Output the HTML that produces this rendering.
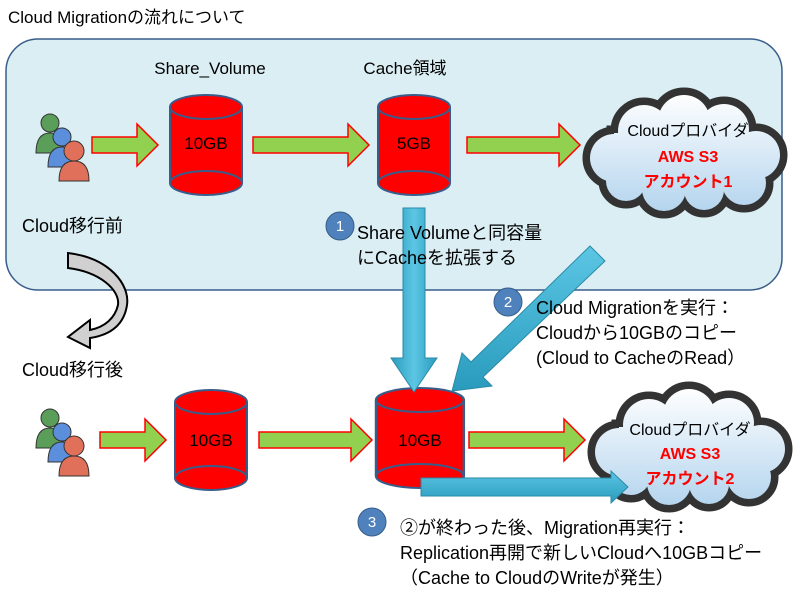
<!DOCTYPE html>
<html><head><meta charset="utf-8"><style>
body{margin:0;background:#fff}
svg text{font-family:"Liberation Sans","Noto Sans CJK JP",sans-serif}
</style></head><body>
<svg width="800" height="591" xmlns="http://www.w3.org/2000/svg">
<defs>
<linearGradient id="cl" gradientUnits="userSpaceOnUse" x1="0" y1="0" x2="0" y2="120"><stop offset="0" stop-color="#ffffff"/><stop offset="1" stop-color="#b3d4ee"/></linearGradient>
<linearGradient id="bv" x1="0" y1="0" x2="1" y2="0"><stop offset="0" stop-color="#2a9bbd"/><stop offset="0.5" stop-color="#5cc6e4"/><stop offset="1" stop-color="#2a9bbd"/></linearGradient>
<linearGradient id="bh" x1="0" y1="0" x2="0" y2="1"><stop offset="0" stop-color="#5cc6e4"/><stop offset="1" stop-color="#2a9bbd"/></linearGradient>
<g id="cyl">
<path d="M0,12 L0,88 A36,12 0 0 0 72,88 L72,12" fill="#f00" stroke="#385d8a" stroke-width="2"/>
<path d="M0,88 A36,12 0 0 1 72,88" fill="none" stroke="#385d8a" stroke-width="2"/>
<ellipse cx="36" cy="12" rx="36" ry="12" fill="#f00" stroke="#385d8a" stroke-width="2"/>
</g>
<g id="cloudS">
<circle cx="30" cy="65" r="24"/><circle cx="60" cy="38" r="26"/><circle cx="100" cy="28" r="26"/><circle cx="140" cy="36" r="25"/><circle cx="172" cy="62" r="24"/><circle cx="160" cy="90" r="22"/><circle cx="120" cy="97" r="20"/><circle cx="80" cy="96" r="22"/><circle cx="42" cy="88" r="20"/><rect x="30" y="40" width="140" height="55"/>
</g>
<g id="cloud">
<use href="#cloudS" fill="#333" stroke="#333" stroke-width="15"/>
<use href="#cloudS" fill="url(#cl)"/>
</g>
<g id="people">
<circle cx="18" cy="10" r="9" fill="#5a9e5a" stroke="#333"/><path d="M4,40 Q4,20 18,20 Q32,20 32,40 Z" fill="#5a9e5a" stroke="#333"/>
<circle cx="30" cy="24" r="9" fill="#5b8fdc" stroke="#333"/><path d="M16,54 Q16,34 30,34 Q44,34 44,54 Z" fill="#5b8fdc" stroke="#333"/>
<circle cx="42" cy="38" r="10" fill="#e0705a" stroke="#333"/><path d="M27,68 Q27,48 42,48 Q57,48 57,68 Z" fill="#e0705a" stroke="#333"/>
</g>
</defs>
<text x="8" y="23" font-size="17" fill="#000">Cloud Migrationの流れについて</text>
<rect x="6" y="39" width="776" height="251" rx="32" fill="#daeef3" stroke="#385d8a" stroke-width="1.5"/>
<text x="210" y="74" font-size="17" text-anchor="middle">Share_Volume</text>
<text x="405" y="74" font-size="17" text-anchor="middle">Cache領域</text>
<use href="#people" x="32" y="113"/>
<use href="#people" x="32" y="408"/>
<g fill="#92d050" stroke="#f00" stroke-width="1.5">
<path d="M92,137 h45 v-13 l21,21 -21,21 v-13 h-45z"/>
<path d="M253,137 h95 v-13 l21,21 -21,21 v-13 h-95z"/>
<path d="M467,137 h92 v-13 l21,21 -21,21 v-13 h-92z"/>
<path d="M100,432 h45 v-13 l21,21 -21,21 v-13 h-45z"/>
<path d="M259,432 h92 v-13 l21,21 -21,21 v-13 h-92z"/>
<path d="M469,432 h95 v-13 l21,21 -21,21 v-13 h-95z"/>
</g>
<use href="#cyl" x="170" y="95"/>
<text x="206" y="149" font-size="17" text-anchor="middle">10GB</text>
<use href="#cyl" x="378" y="95"/>
<text x="414" y="149" font-size="17" text-anchor="middle">5GB</text>
<use href="#cyl" x="175" y="390"/>
<text x="211" y="446" font-size="17" text-anchor="middle">10GB</text>
<g transform="translate(376,388) scale(1.22,1)"><use href="#cyl"/></g>
<text x="420" y="446" font-size="17" text-anchor="middle">10GB</text>
<use href="#cloud" x="584" y="93"/>
<text x="688" y="136" font-size="16" text-anchor="middle">Cloudプロバイダ</text>
<text x="688" y="162" font-size="16" font-weight="bold" fill="#f00" text-anchor="middle">AWS S3</text>
<text x="688" y="187" font-size="16" font-weight="bold" fill="#f00" text-anchor="middle">アカウント1</text>
<use href="#cloud" x="589" y="387"/>
<text x="690" y="435" font-size="16" text-anchor="middle">Cloudプロバイダ</text>
<text x="690" y="459" font-size="16" font-weight="bold" fill="#f00" text-anchor="middle">AWS S3</text>
<text x="690" y="484" font-size="16" font-weight="bold" fill="#f00" text-anchor="middle">アカウント2</text>
<path d="M403,208 h22 v150 h12 l-23,34 -23,-34 h12z" fill="url(#bv)" stroke="#2a8aa8"/>
<path d="M590,246 l15,15 -122,116 9,9 -40,5 10,-38 9,9z" fill="url(#bh)" stroke="#2a8aa8"/>
<path d="M421,478 h190 v-7 l17,16 -17,16 v-7 h-190z" fill="url(#bh)" stroke="#2a8aa8"/>
<g fill="#4f81bd" stroke="#385d8a"><circle cx="340" cy="226" r="14"/><circle cx="508" cy="302" r="14"/><circle cx="372" cy="522" r="14"/></g>
<g fill="#fff" font-size="15" text-anchor="middle"><text x="340" y="231">1</text><text x="508" y="307">2</text><text x="372" y="527">3</text></g>
<g font-size="18">
<text x="357" y="239">Share Volumeと同容量</text>
<text x="357" y="264">にCacheを拡張する</text>
<text x="536" y="314">Cloud Migrationを実行：</text>
<text x="536" y="339">Cloudから10GBのコピー</text>
<text x="536" y="364">(Cloud to CacheのRead）</text>
<text x="400" y="534">②が終わった後、Migration再実行：</text>
<text x="400" y="559">Replication再開で新しいCloudへ10GBコピー</text>
<text x="400" y="584">（Cache to CloudのWriteが発生）</text>
<text x="22" y="232">Cloud移行前</text>
<text x="22" y="376">Cloud移行後</text>
</g>
<path d="M68,253 C110,258 130,285 127,305 C124,325 110,335 90,338 L90,348 L68,337 L90,320 L90,330 C105,327 115,318 118,305 C120,290 100,272 68,268 Z" fill="#d0d0d0" stroke="#000" stroke-width="2"/>
</svg>
</body></html>
